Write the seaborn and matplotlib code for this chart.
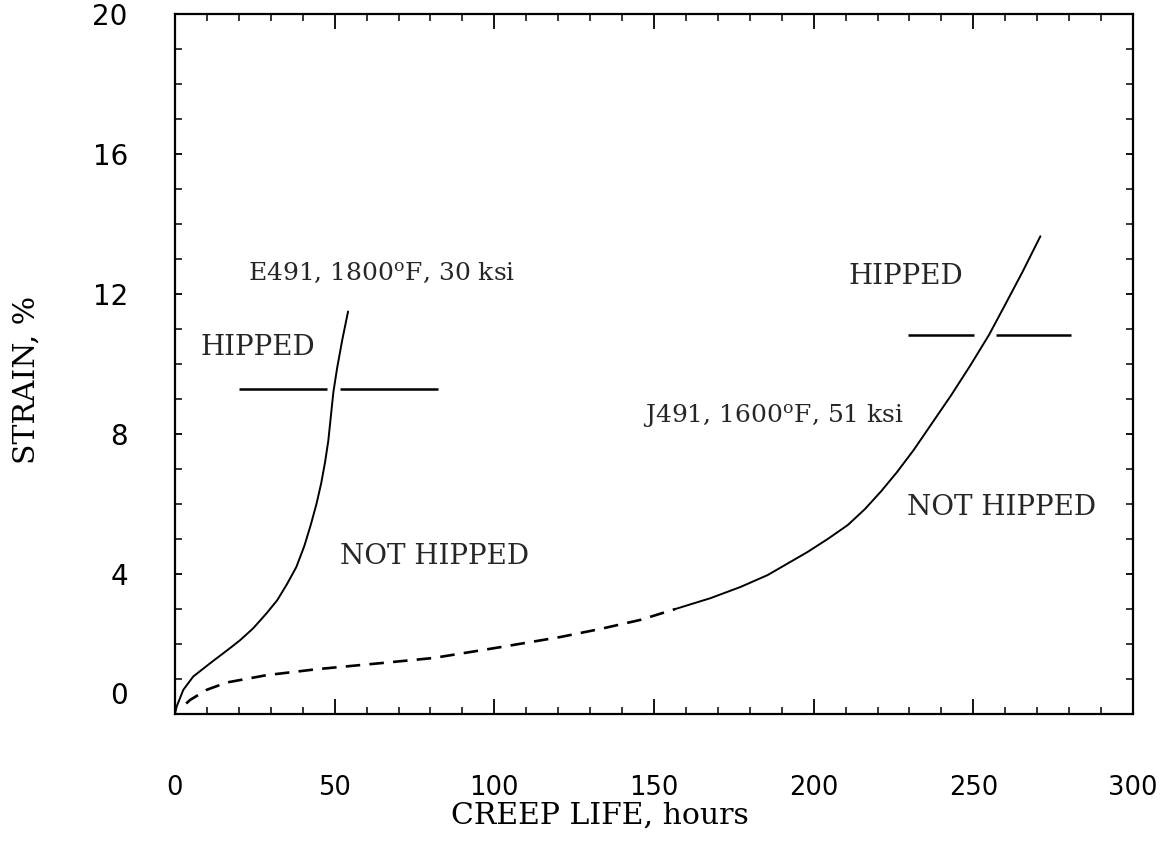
import matplotlib
matplotlib.use("Agg")
import matplotlib.pyplot as plt
import matplotlib.transforms as mtransforms
from matplotlib.ticker import MultipleLocator
import seaborn as sns
import pandas as pd

# ---- data ----
e491_x = [0, 0.5, 2.6, 5.7, 11.0, 17.2, 20.4, 24.5, 28.7, 32.0, 35.0, 38.0,
          40.5, 42.5, 44.3, 45.8, 47.0, 48.0, 48.8, 49.6, 50.8, 52.4, 54.2]
e491_y = [0, 0.21, 0.69, 1.07, 1.45, 1.88, 2.11, 2.45, 2.88, 3.25, 3.70, 4.20,
          4.80, 5.40, 6.00, 6.60, 7.20, 7.80, 8.50, 9.20, 9.90, 10.70, 11.50]

j491_dash_x = [3.5, 4.7, 9.9, 16.2, 28.7, 44.4, 65.2, 80.9, 101.9, 120.7,
               133.2, 145.8, 156.7]
j491_dash_y = [0.30, 0.40, 0.69, 0.90, 1.11, 1.28, 1.46, 1.60, 1.91, 2.20,
               2.43, 2.69, 3.00]

j491_solid_x = [156.7, 167.7, 177.1, 185.6, 198.1, 204.4, 210.7, 216.0, 221.0,
                226.0, 231.3, 237.0, 243.0, 249.0, 254.9, 260.0, 265.5, 271.0]
j491_solid_y = [3.00, 3.31, 3.63, 3.97, 4.63, 5.00, 5.40, 5.85, 6.35,
                6.90, 7.54, 8.30, 9.10, 9.95, 10.83, 11.70, 12.65, 13.65]

hipped_y = [9.3, 9.3, 10.83, 10.83]
hipped_xmin = [20.0, 51.7, 229.5, 257.0]
hipped_xmax = [47.5, 82.4, 250.3, 280.6]

x_ticks = [0, 50, 100, 150, 200, 250, 300]
y_ticks = [0, 4, 8, 12, 16, 20]

# ---- styling ----
sns.set_theme(style="white")
plt.rcParams["font.family"] = ["DejaVu Sans"]
plt.rcParams["mathtext.fontset"] = "dejavuserif"

W, H = 1170, 857
fig = plt.figure(figsize=(W / 100, H / 100), dpi=100)
L, R, T, B = 175, 1133, 14, 714
ax = fig.add_axes([L / W, 1 - B / H, (R - L) / W, (B - T) / H])

df_e = pd.DataFrame({"x": e491_x, "y": e491_y})
df_jd = pd.DataFrame({"x": j491_dash_x, "y": j491_dash_y})
df_js = pd.DataFrame({"x": j491_solid_x, "y": j491_solid_y})

sns.lineplot(data=df_e, x="x", y="y", ax=ax, color="black", lw=1.4,
             sort=False, estimator=None)
sns.lineplot(data=df_jd, x="x", y="y", ax=ax, color="black", lw=1.9,
             sort=False, estimator=None, linestyle=(0, (5.5, 3.5)))
sns.lineplot(data=df_js, x="x", y="y", ax=ax, color="black", lw=1.4,
             sort=False, estimator=None)
ax.hlines(hipped_y, hipped_xmin, hipped_xmax, color="black", lw=1.8)

ax.set_xlim(0, 300)
ax.set_ylim(0, 20)
ax.set_xticks(x_ticks)
ax.set_yticks(y_ticks)
ax.set_xticklabels([str(v) for v in x_ticks])
ax.set_yticklabels([str(v) for v in y_ticks])
ax.xaxis.set_minor_locator(MultipleLocator(10))
ax.yaxis.set_minor_locator(MultipleLocator(1))

ax.tick_params(axis="x", which="major", direction="in", length=11, width=1.3,
               top=True, bottom=True, labelsize=18.5, pad=44, colors="black")
ax.tick_params(axis="x", which="minor", direction="in", length=5, width=1.3,
               top=True, bottom=True)
ax.tick_params(axis="y", which="major", direction="in", length=5, width=1.3,
               left=True, right=True, labelsize=20, pad=34, colors="black")
ax.tick_params(axis="y", which="minor", direction="in", length=5, width=1.3,
               left=True, right=True)

for sp in ax.spines.values():
    sp.set_visible(True)
    sp.set_color("black")
    sp.set_linewidth(1.6)

# the "0" label on the y axis sits raised above the axis line
ylab0 = ax.get_yticklabels()[0]
ylab0.set_transform(ylab0.get_transform() +
                    mtransforms.ScaledTranslation(0, 21 / 100, fig.dpi_scale_trans))

serif = ["DejaVu Serif"]
ax.set_xlabel("CREEP LIFE, hours", family=serif, fontsize=21.5, color="black")
ax.set_ylabel("STRAIN, %", family=serif, fontsize=21.5, color="black")
ax.xaxis.set_label_coords((600 - L) / (R - L), (B - 816) / (B - T))
ax.yaxis.set_label_coords((27 - L) / (R - L), (B - 380) / (B - T))
ax.xaxis.label.set_va("center")
ax.yaxis.label.set_va("center")

fs_word = 20
fs_spec = 18
ax.text(22.9, 12.6, r"E491, 1800$^{\mathrm{o}}$F, 30 ksi", family=serif,
        fontsize=fs_spec, va="center", ha="left")
ax.text(8.1, 10.46, "HIPPED", family=serif, fontsize=fs_word, va="center", ha="left")
ax.text(51.7, 4.49, "NOT HIPPED", family=serif, fontsize=fs_word, va="center", ha="left")
ax.text(211.0, 12.51, "HIPPED", family=serif, fontsize=fs_word, va="center", ha="left")
ax.text(146.4, 8.49, r"J491, 1600$^{\mathrm{o}}$F, 51 ksi", family=serif,
        fontsize=fs_spec, va="center", ha="left")
ax.text(229.2, 5.89, "NOT HIPPED", family=serif, fontsize=fs_word, va="center", ha="left")

fig.savefig("out.png", dpi=100, facecolor="white")
